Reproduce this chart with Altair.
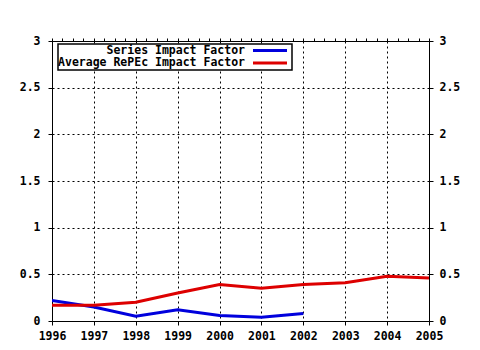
import altair as alt
import pandas as pd

years = [1996, 1997, 1998, 1999, 2000, 2001, 2002, 2003, 2004, 2005]
series_names = ["Series Impact Factor", "Average RePEc Impact Factor"]
series_values = [0.22, 0.15, 0.05, 0.12, 0.06, 0.04, 0.08, None, None, None]
average_values = [0.17, 0.17, 0.20, 0.30, 0.39, 0.35, 0.39, 0.41, 0.48, 0.46]
colors = ["#0000dd", "#dd0000"]
y_ticks = [0, 0.5, 1, 1.5, 2, 2.5, 3]
minor_x = [1996 + i * 0.25 for i in range(37)]

rows = []
for name, vals in zip(series_names, [series_values, average_values]):
    for yr, v in zip(years, vals):
        if v is not None:
            rows.append({"year": yr, "value": v, "series": name})
df = pd.DataFrame(rows)

FONT = "DejaVu Sans Mono"

xscale = alt.Scale(domain=[1996, 2005], nice=False, zero=False)
yscale = alt.Scale(domain=[0, 3], nice=False)

base = alt.Chart(df)

lines = base.mark_line(strokeWidth=3, clip=True).encode(
    x=alt.X("year:Q", scale=xscale,
            axis=alt.Axis(orient="bottom", values=years, format="d", title=None,
                          grid=True, gridColor="black", gridDash=[2, 3], gridOpacity=1,
                          domainColor="black", tickColor="black", tickSize=4,
                          labelFont=FONT, labelFontWeight="bold", labelFontSize=11.5,
                          labelColor="black", labelPadding=5, labelFlush=False)),
    y=alt.Y("value:Q", scale=yscale,
            axis=alt.Axis(orient="left", values=y_ticks, title=None,
                          labelExpr="datum.value == 0 ? '0' : format(datum.value, '.1~f')",
                          grid=True, gridColor="black", gridDash=[2, 3], gridOpacity=1,
                          domainColor="black", tickColor="black", tickSize=4,
                          labelFont=FONT, labelFontWeight="bold", labelFontSize=11.5,
                          labelColor="black", labelPadding=8)),
    color=alt.Color("series:N", scale=alt.Scale(domain=series_names, range=colors), legend=None),
)

right_axis = base.mark_point(opacity=0).encode(
    x=alt.X("year:Q", scale=xscale,
            axis=alt.Axis(orient="top", values=minor_x, labels=False, title=None, grid=False,
                          domainColor="black", tickColor="black", tickSize=3)),
    y=alt.Y("value:Q", scale=yscale,
            axis=alt.Axis(orient="right", values=y_ticks, title=None, grid=False,
                          labelExpr="datum.value == 0 ? '0' : format(datum.value, '.1~f')",
                          domainColor="black", tickColor="black", tickSize=4,
                          labelFont=FONT, labelFontWeight="bold", labelFontSize=11.5,
                          labelColor="black", labelPadding=6)),
)

legend_box = alt.Chart(pd.DataFrame({"a": [0]})).mark_rect(
    fill="white", stroke="black", strokeWidth=1.5
).encode(x=alt.value(6), x2=alt.value(240), y=alt.value(3), y2=alt.value(29))

legend_layers = [legend_box]
for i, (name, col) in enumerate(zip(series_names, colors)):
    ypos = 9.5 + i * 12.5
    ld = pd.DataFrame({"series": [name]})
    legend_layers.append(
        alt.Chart(ld).mark_text(align="right", baseline="middle", font=FONT,
                                fontWeight="bold", fontSize=11.5, color="black")
        .encode(text="series:N", x=alt.value(193), y=alt.value(ypos))
    )
    legend_layers.append(
        alt.Chart(ld).mark_rule(color=col, strokeWidth=3)
        .encode(x=alt.value(201), x2=alt.value(235), y=alt.value(ypos))
    )

chart = alt.layer(lines, right_axis, *legend_layers).resolve_axis(
    x="independent", y="independent"
).properties(
    width=377, height=280,
    padding={"left": 52, "top": 41, "right": 51, "bottom": 29},
    autosize=alt.AutoSizeParams(type="none"),
    background="white",
).configure_view(stroke=None)

chart.save("out.html", embed_options={"renderer": "svg", "actions": False})
